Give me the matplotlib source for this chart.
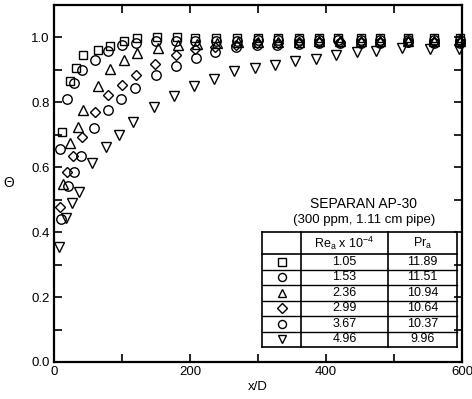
import matplotlib
matplotlib.use('Agg')
import matplotlib.pyplot as plt
from matplotlib.lines import Line2D
from matplotlib.ticker import MultipleLocator

# ---------------- data ----------------
sq_x = [12, 24, 33, 43, 64, 82, 103, 122, 152, 181, 208, 238, 269, 300, 330, 360, 389, 418, 452, 480, 520, 559, 597]
sq_y = [0.708, 0.865, 0.905, 0.945, 0.962, 0.975, 0.988, 0.997, 1.0, 1.0, 0.998, 0.998, 0.998, 0.998, 0.998, 0.998,
        0.998, 0.998, 0.998, 0.998, 0.998, 0.998, 0.998]

c1_x = [9, 19, 29, 41, 60, 80, 100, 120, 150, 180, 208, 238, 269, 300, 330, 360, 389, 418, 452, 480, 520, 559, 597]
c1_y = [0.656, 0.809, 0.860, 0.900, 0.930, 0.958, 0.976, 0.982, 0.988, 0.990, 0.990, 0.990, 0.990, 0.992, 0.992,
        0.992, 0.993, 0.993, 0.993, 0.993, 0.993, 0.993, 0.993]

tu_x = [13, 23.5, 35, 43, 64, 83, 103, 122.5, 153, 182, 210, 240, 270, 300, 330, 360, 390, 420, 452, 480, 520, 559, 597]
tu_y = [0.548, 0.675, 0.723, 0.778, 0.850, 0.904, 0.930, 0.952, 0.966, 0.977, 0.980, 0.983, 0.985, 0.985, 0.987,
        0.987, 0.988, 0.988, 0.988, 0.988, 0.988, 0.988, 0.988]

di_x = [9, 19.6, 28.4, 41, 60, 80, 100, 120, 149, 179, 207, 237, 268, 299, 329, 360, 389, 420, 452, 480, 520, 559, 597]
di_y = [0.477, 0.584, 0.636, 0.692, 0.769, 0.822, 0.852, 0.885, 0.919, 0.945, 0.963, 0.972, 0.978, 0.982, 0.984,
        0.986, 0.986, 0.987, 0.987, 0.987, 0.987, 0.987, 0.987]

c2_x = [11, 21, 29, 40, 59, 80, 99, 119, 149.5, 179, 209, 237, 268, 299, 328, 360, 390, 420, 452, 480, 520, 559, 597]
c2_y = [0.442, 0.543, 0.584, 0.634, 0.720, 0.776, 0.809, 0.845, 0.885, 0.911, 0.937, 0.955, 0.971, 0.977, 0.977,
        0.980, 0.982, 0.983, 0.983, 0.984, 0.985, 0.984, 0.984]

td_x = [7.5, 17, 26, 37, 56, 76, 96, 116, 147, 176, 206, 235, 265, 296, 325, 355, 385, 414, 446, 474, 512, 553, 595]
td_y = [0.355, 0.444, 0.490, 0.525, 0.613, 0.663, 0.698, 0.739, 0.785, 0.821, 0.850, 0.873, 0.896, 0.907, 0.914,
        0.928, 0.935, 0.945, 0.955, 0.957, 0.968, 0.964, 0.964]

re_vals = ["1.05", "1.53", "2.36", "2.99", "3.67", "4.96"]
pr_vals = ["11.89", "11.51", "10.94", "10.64", "10.37", "9.96"]
markers = ['s', 'o', '^', 'D', 'o', 'v']
msizes = [6.2, 6.8, 7.0, 5.5, 6.8, 7.0]

series = [(sq_x, sq_y), (c1_x, c1_y), (tu_x, tu_y), (di_x, di_y), (c2_x, c2_y), (td_x, td_y)]

# ---------------- figure ----------------
W, H = 472, 399
plt.rcParams['font.family'] = ['Liberation Sans', 'DejaVu Sans']
fig = plt.figure(figsize=(W / 100, H / 100), dpi=100)
ax = fig.add_axes([54 / W, 1 - 362 / H, 408 / W, 357 / H])

for (xs, ys), m, s in zip(series, markers, msizes):
    ax.plot(xs, ys, linestyle='none', marker=m, ms=s, mfc='none', mec='black', mew=1.0, clip_on=False)

ax.set_xlim(0, 600)
ax.set_ylim(0, 1.1)
ax.xaxis.set_major_locator(MultipleLocator(200))
ax.xaxis.set_minor_locator(MultipleLocator(100))
ax.yaxis.set_minor_locator(MultipleLocator(0.1))
ax.set_yticks([0.0, 0.2, 0.4, 0.6, 0.8, 1.0])
ax.set_yticklabels(['0.0', '0.2', '0.4', '0.6', '0.8', '1.0'])
ax.tick_params(which='both', direction='in', top=True, right=True, length=6, width=1.2, labelsize=9.5, pad=3)
for sp in ax.spines.values():
    sp.set_linewidth(1.6)

ax.set_xlabel('x/D', fontsize=9.5, labelpad=2)
ax.set_ylabel('Θ', fontsize=10, rotation=0, labelpad=16, va='center')


def P(px, py):
    return (px / W, 1 - py / H)


# ---------------- table legend ----------------
fig.text(*P(364, 204), 'SEPARAN AP-30', ha='center', va='center', fontsize=10)
fig.text(*P(364, 220), '(300 ppm, 1.11 cm pipe)', ha='center', va='center', fontsize=9.5)

left, right, top, bottom = 262, 457, 232, 347
c1, c2 = 301, 388
head_bot = 254
row_h = (bottom - head_bot) / 6.0

lw = 1.2
for (xa, ya, xb, yb) in [(left, top, right, top), (left, bottom, right, bottom),
                         (left, top, left, bottom), (right, top, right, bottom),
                         (c1, top, c1, bottom), (c2, top, c2, bottom),
                         (left, head_bot, right, head_bot)]:
    fig.add_artist(Line2D([xa / W, xb / W], [1 - ya / H, 1 - yb / H], color='black', lw=lw))
for i in range(1, 6):
    yy = head_bot + i * row_h
    fig.add_artist(Line2D([left / W, right / W], [1 - yy / H, 1 - yy / H], color='black', lw=1.0))

fig.text(*P((c1 + c2) / 2, (top + head_bot) / 2), r'Re$_\mathregular{a}$ x 10$^\mathregular{-4}$',
         ha='center', va='center', fontsize=9)
fig.text(*P((c2 + right) / 2, (top + head_bot) / 2), r'Pr$_\mathregular{a}$', ha='center', va='center', fontsize=9)

for i in range(6):
    yc = head_bot + (i + 0.5) * row_h
    fx, fy = P((left + c1) / 2, yc)
    fig.add_artist(Line2D([fx], [fy], marker=markers[i], ms=msizes[i] * 0.85, mfc='none', mec='black', mew=1.0,
                          linestyle='none'))
    fig.text(*P((c1 + c2) / 2, yc), re_vals[i], ha='center', va='center', fontsize=9)
    fig.text(*P((c2 + right) / 2, yc), pr_vals[i], ha='center', va='center', fontsize=9)

fig.savefig('out.png', dpi=100)
